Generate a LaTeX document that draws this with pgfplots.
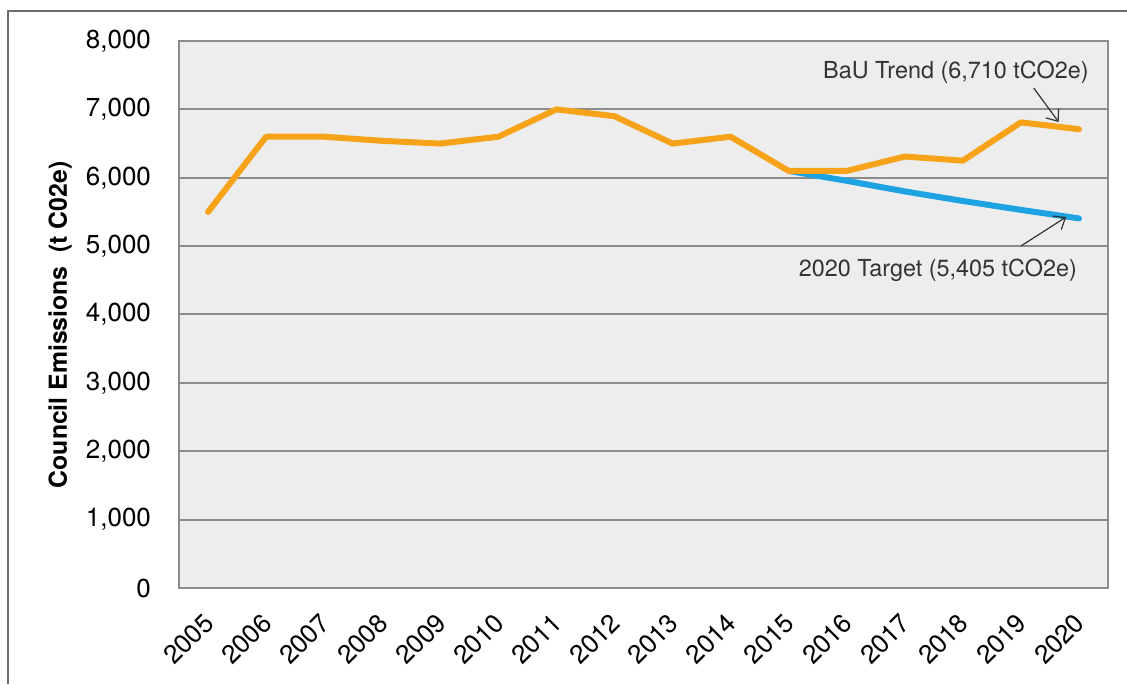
\documentclass[border=0pt]{standalone}
\usepackage{pgfplots}
\pgfplotsset{compat=1.18}
\usepackage{fontspec}
\setmainfont{TeX Gyre Heros}
\usetikzlibrary{arrows.meta}

\definecolor{bau}{RGB}{246,163,26}
\definecolor{target}{RGB}{29,163,226}
\definecolor{plotbg}{RGB}{237,237,237}
\definecolor{gridc}{RGB}{140,140,140}
\definecolor{framec}{RGB}{110,110,110}
\definecolor{txt}{RGB}{51,51,51}

\begin{document}
\begin{tikzpicture}
\useasboundingbox (0,0) rectangle (563.5pt,342pt);
% outer frame, cut off on the right and at the bottom
\draw[framec, line width=1pt] (4pt,0) -- (4pt,336.5pt) -- (563.5pt,336.5pt);
\begin{axis}[
  at={(89.5pt,48pt)}, anchor=south west,
  scale only axis, width=464.5pt, height=273.5pt,
  xmin=2004.5, xmax=2020.5, ymin=0, ymax=8000,
  xtick={2005,...,2020},
  ytick={0,1000,...,8000},
  major tick length=0pt,
  axis background/.style={fill=plotbg},
  axis line style={gridc, line width=1pt},
  ymajorgrids, grid style={gridc, line width=1pt},
  /pgf/number format/assume math mode=true,
  x tick label style={/pgf/number format/1000 sep={}, xshift=-2.9pt, yshift=-7pt, rotate=45, anchor=north east, font=\fontsize{13}{15}\selectfont},
  y tick label style={/pgf/number format/1000 sep={,}, font=\fontsize{13}{15}\selectfont, xshift=-10.5pt},
  ylabel={Council Emissions\ \ (t C02e)},
  ylabel style={at={(axis description cs:-0.128,0.481)}, anchor=center, font=\bfseries\fontsize{12.4}{14}\selectfont},
  clip=false,
]
\addplot[target, line width=3pt, line join=round, line cap=round] coordinates {
  (2015,6100) (2016,5955) (2017,5800) (2018,5660) (2019,5530) (2020,5405)};
\addplot[bau, line width=3pt, line join=round, line cap=round] coordinates {
  (2005,5500) (2006,6600) (2007,6600) (2008,6540) (2009,6500) (2010,6600)
  (2011,7000) (2012,6900) (2013,6500) (2014,6600) (2015,6100) (2016,6100)
  (2017,6310) (2018,6250) (2019,6810) (2020,6710)};
\node[txt, font=\fontsize{11.7}{13}\selectfont] at (axis cs:2017.88,7547) {BaU Trend (6,710 tCO2e)};
\draw[-{Straight Barb[length=5pt,width=8pt]}, txt, line width=0.6pt] (axis cs:2019.22,7313) -- (axis cs:2019.65,6815);
\node[txt, font=\fontsize{11.7}{13}\selectfont] at (axis cs:2017.57,4651) {2020 Target (5,405 tCO2e)};
\draw[-{Straight Barb[length=5pt,width=8pt]}, txt, line width=0.6pt] (axis cs:2019.0,5002) -- (axis cs:2019.78,5426);
\end{axis}
\end{tikzpicture}
\end{document}
